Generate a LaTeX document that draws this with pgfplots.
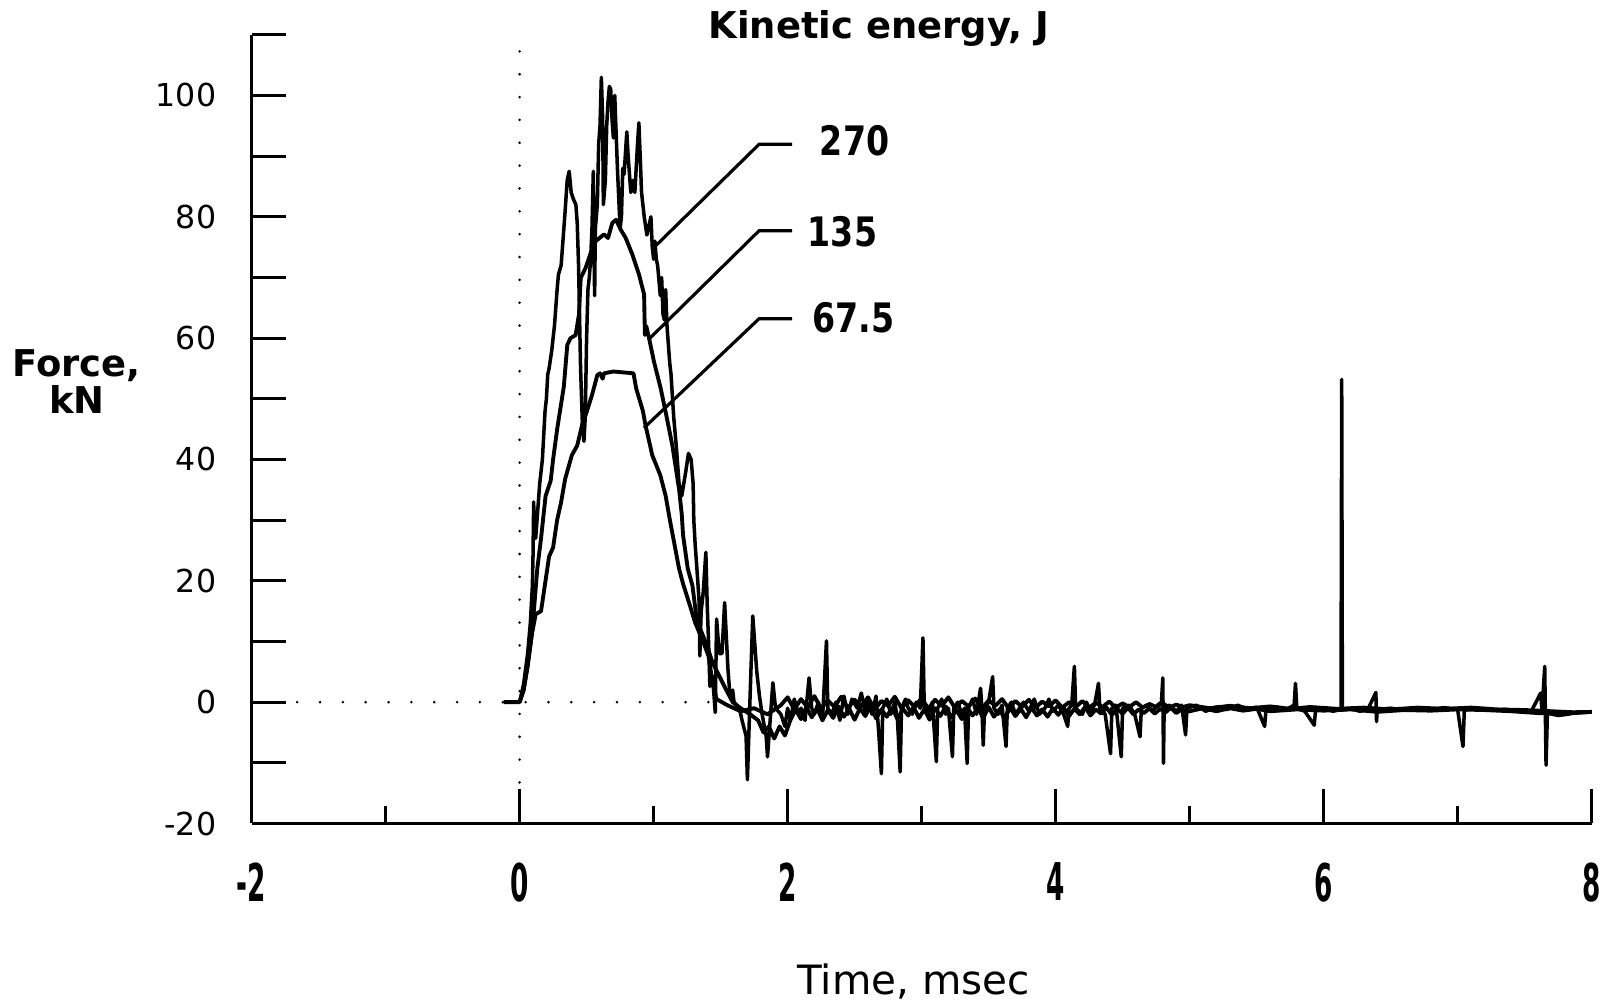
\documentclass[border=0pt]{standalone}
\usepackage{pgfplots}
\pgfplotsset{compat=1.18}
\usepackage{fontspec}
\setmainfont{DejaVu Sans}
\usepackage{graphicx}
\newcommand{\xl}[1]{\scalebox{0.75}[1.48]{\bfseries #1}}
\newcommand{\al}[1]{\scalebox{0.9}[1.1]{#1}}
\begin{document}
\begin{tikzpicture}
\begin{axis}[
  name=ax,
  scale only axis,
  width=13.40cm, height=7.887cm,
  xmin=-2, xmax=8, ymin=-20, ymax=110,
  axis lines=left,
  axis line style={-, line width=0.9pt},
  tick align=inside,
  major tick length=0.34cm,
  minor tick length=0.17cm,
  tick style={line width=0.9pt, black},
  xtick={-2,0,2,4,6,8},
  xticklabels={\xl{-2},\xl{0},\xl{2},\xl{4},\xl{6},\xl{8}},
  minor xtick={-1,1,3,5,7},
  ytick={-20,-10,0,10,20,30,40,50,60,70,80,90,100,110},
  yticklabels={-20,,0,,20,,40,,60,,80,,100,},
  yticklabel style={font=\fontsize{9}{10}\selectfont, xshift=-0.23cm},
  xticklabel style={font=\fontsize{10}{12}\selectfont, yshift=-0.27cm},
  clip=false,
]
% dotted reference lines
\draw[line width=0.8pt, dash pattern=on 0pt off 6.5pt, line cap=round] (axis cs:0,-17) -- (axis cs:0,109);
\draw[line width=0.8pt, dash pattern=on 0pt off 6.5pt, line cap=round] (axis cs:-1.66,0) -- (axis cs:1.45,0);

% 67.5 J
\addplot[black, line width=1.1pt, line join=round] coordinates {
(-0.12,0) (0,0) (0.03,2) (0.06,6) (0.09,11) (0.12,14.5) (0.16,15) (0.18,18) (0.2,21) (0.22,24) (0.25,25.5)
(0.28,30) (0.31,33) (0.34,36.8) (0.39,40.7) (0.43,42.3) (0.47,46) (0.5,47.8) (0.54,50.6) (0.58,53.9) (0.6,54.2)
(0.62,53.3) (0.63,54.2) (0.7,54.5) (0.85,54.2) (0.87,51.7) (0.92,48) (0.94,45.6) (0.99,40.7) (1.05,37.4)
(1.09,34) (1.12,30.2) (1.19,22) (1.22,19.5) (1.27,16) (1.31,13.1) (1.36,10.5) (1.41,7.6) (1.44,3.2) (1.47,0.5)
(1.55,-0.5) (1.65,-1.5) (1.75,-1) (1.85,-2) (1.95,-0.5)
(2.0,0.8) (2.05,-1.2) (2.1,0.5) (2.15,-0.9) (2.2,1.0) (2.25,-1.1) (2.3,0.3) (2.35,-0.8) (2.4,0.9) (2.45,-1.0)
(2.5,0.4) (2.55,-0.7) (2.6,0.8) (2.65,-1.2) (2.7,0.2) (2.75,-0.6) (2.8,0.9) (2.85,-1.0) (2.9,0.3) (2.95,-0.8)
(3.0,0.7) (3.05,-1.1) (3.1,0.4) (3.15,-0.6) (3.2,0.8) (3.25,-1.0) (3.3,0.2) (3.35,-0.7) (3.4,0.6) (3.45,-1.1)
(3.5,0.3) (3.55,-0.6) (3.6,0.5) (3.65,-1.0) (3.7,0.2) (3.75,-0.8) (3.8,0.4) (3.85,-0.9) (3.9,0.1) (3.95,-0.7)
(4.0,0.3) (4.05,-0.9) (4.1,0.0) (4.15,-0.8) (4.2,0.2) (4.25,-0.9) (4.3,-0.1) (4.35,-0.8) (4.4,0.1) (4.45,-0.9)
(4.5,-0.2) (4.55,-0.8) (4.6,0.0) (4.65,-0.9) (4.7,-0.3) (4.75,-0.8) (4.8,-0.2) (4.85,-0.9) (4.9,-0.4) (4.95,-0.8)
(5.0,-0.5) (5.15,-1.0) (5.3,-0.6) (5.45,-1.0) (5.6,-0.7) (5.75,-1.1) (5.9,-0.8) (6.1,-1.1) (6.3,-0.9) (6.5,-1.2)
(6.7,-0.9) (6.9,-1.1) (7.1,-0.9) (7.3,-1.2) (7.5,-1.3) (7.7,-1.5) (7.9,-1.7) (8.0,-1.6)
};

% 135 J
\addplot[black, line width=1.1pt, line join=round] coordinates {
(0,0) (0.03,2) (0.06,6) (0.09,11) (0.11,16) (0.132,22) (0.16,27) (0.194,34) (0.232,36.5) (0.25,40) (0.281,45.1)
(0.33,52) (0.356,58.9) (0.38,60) (0.418,60.5) (0.443,63.9) (0.456,69.9) (0.493,71.6) (0.53,74) (0.568,76.0)
(0.63,77.1) (0.66,76.5) (0.692,79.0) (0.72,79.5) (0.754,77.9) (0.792,76.5) (0.841,73.8) (0.891,70.5)
(0.929,67.2) (0.935,60.5) (0.945,62) (0.966,60.0) (1.003,56.1) (1.053,51.7) (1.09,47.8) (1.14,42.3)
(1.19,35.1) (1.21,31) (1.22,27.5) (1.255,22) (1.29,19.2) (1.315,14.8) (1.34,12.5) (1.39,9.8) (1.44,6.5)
(1.49,4.3) (1.54,2.1) (1.59,0) (1.65,-1) (1.72,-2) (1.78,-3) (1.82,-5) (1.86,-4) (1.9,-6) (1.94,-4)
(1.98,-5.5) (2.02,-3) (2.06,-1.2) (2.10,-2.8) (2.14,-0.8) (2.18,-2.5) (2.22,-1.0) (2.26,-3.0) (2.30,-1.3)
(2.34,-2.6) (2.38,-0.7) (2.42,-2.4) (2.46,-1.1) (2.50,-2.9) (2.54,-1.0) (2.58,-2.3) (2.62,-0.6) (2.66,-2.7)
(2.70,-1.2) (2.74,-2.4) (2.78,-0.9) (2.82,-2.8) (2.86,-1.1) (2.90,-2.2) (2.94,-0.8) (2.98,-2.6) (3.02,-1.2)
(3.06,-2.9) (3.10,-1.0) (3.14,-2.3) (3.18,-0.7) (3.22,-2.5) (3.26,-1.3) (3.30,-2.8) (3.34,-0.9) (3.38,-2.2)
(3.42,-1.0) (3.46,-2.6) (3.50,-0.8) (3.54,-2.4) (3.58,-1.2) (3.62,-2.7) (3.66,-0.9) (3.70,-2.3) (3.74,-1.1)
(3.78,-2.5) (3.82,-0.9) (3.86,-2.2) (3.90,-1.2) (3.94,-2.4) (3.98,-1.0) (4.02,-2.1) (4.06,-0.9) (4.10,-2.3)
(4.14,-1.1) (4.18,-2.0) (4.22,-0.8) (4.26,-2.2) (4.30,-1.2) (4.34,-1.9) (4.38,-0.9) (4.42,-2.1) (4.46,-1.1)
(4.50,-1.9) (4.54,-0.9) (4.58,-2.0) (4.62,-1.2) (4.66,-1.8) (4.70,-1.0) (4.74,-1.9) (4.78,-1.1) (4.82,-1.7)
(4.86,-0.9) (4.90,-1.8) (4.94,-1.2) (4.98,-1.6) (5.1,-1.0) (5.2,-1.5) (5.3,-1.0) (5.4,-1.4) (5.5,-1.1)
(5.6,-1.5) (5.8,-1.2) (6.0,-1.4) (6.2,-1.2) (6.4,-1.6) (6.6,-1.3) (6.8,-1.4) (7.0,-1.2) (7.2,-1.3) (7.4,-1.5)
(7.6,-1.8) (7.8,-1.9) (8.0,-1.6)
};

% 270 J
\addplot[black, line width=1pt, line join=round] coordinates {
(0,0) (0.03,3) (0.06,8) (0.08,13) (0.095,19) (0.1,24) (0.105,33) (0.11,27) (0.115,30) (0.12,27) (0.13,30)
(0.15,36) (0.17,40) (0.19,48) (0.2,50) (0.21,54) (0.22,55) (0.24,58) (0.26,62) (0.28,68) (0.29,70.5)
(0.31,72) (0.33,78) (0.34,81) (0.355,86) (0.37,87.5) (0.385,84) (0.4,83) (0.42,82) (0.43,79) (0.44,72)
(0.455,55) (0.47,45) (0.48,43) (0.49,47) (0.5,60) (0.51,68) (0.52,70) (0.53,73) (0.54,78) (0.55,87.5)
(0.555,75) (0.56,67) (0.565,78) (0.58,82) (0.59,92) (0.6,95) (0.61,103) (0.62,96) (0.625,82) (0.64,86)
(0.65,95) (0.66,99) (0.67,101.5) (0.68,101) (0.69,96) (0.7,93) (0.71,100) (0.72,94) (0.73,88) (0.74,83)
(0.75,78) (0.76,80) (0.77,88) (0.78,87) (0.8,94) (0.81,90) (0.83,84) (0.845,86) (0.86,84) (0.87,88)
(0.88,92) (0.89,95.5) (0.9,90) (0.91,84) (0.93,80) (0.95,77) (0.97,79) (0.98,80) (0.99,75) (1.0,73)
(1.01,76) (1.02,73) (1.03,72) (1.05,67) (1.06,70) (1.07,64) (1.08,63) (1.09,68) (1.1,62) (1.12,56)
(1.13,54) (1.15,47) (1.17,42) (1.19,36) (1.21,34) (1.24,38) (1.26,41) (1.28,40) (1.295,36) (1.3,30)
(1.31,26) (1.32,23) (1.33,19.8) (1.34,16.4) (1.345,7.6) (1.355,15) (1.37,18) (1.39,24.7) (1.4,16)
(1.41,10) (1.42,2.6) (1.44,4.3) (1.46,-1.7) (1.47,13.7) (1.49,8) (1.51,8) (1.53,16.4) (1.555,5.4)
(1.57,1) (1.59,2) (1.6,0) (1.64,-1) (1.66,-3) (1.69,-5.6) (1.7,-12.8) (1.72,1) (1.74,14.2) (1.77,5)
(1.79,1) (1.81,-2) (1.84,-5.6) (1.85,-9) (1.89,3.2) (1.91,-1) (1.95,-2)
(1.98,-4) (2.0,-1) (2.02,-3) (2.05,0.5) (2.08,-2) (2.1,-1) (2.13,-3) (2.16,4.0) (2.18,-1) (2.2,-2)
(2.23,0) (2.26,-3) (2.29,10.1) (2.3,-1) (2.33,-2) (2.36,0) (2.39,-3) (2.42,1) (2.45,-2) (2.48,0.5)
(2.52,-1) (2.55,1.5) (2.58,-1.5) (2.6,0) (2.63,-2) (2.66,1) (2.68,-5) (2.70,-11.8) (2.71,-1) (2.74,0.5)
(2.77,-2) (2.8,0) (2.82,-3) (2.84,-11.5) (2.85,-1) (2.88,0.5) (2.9,-1) (2.93,-2) (2.96,0) (2.99,-1)
(3.01,10.6) (3.02,-1) (3.05,-2) (3.08,0) (3.11,-9.8) (3.12,-1) (3.15,0.5) (3.18,-2) (3.2,-1) (3.23,-9)
(3.24,-1) (3.27,0) (3.3,-2) (3.32,-1) (3.34,-10.1) (3.35,-1) (3.38,0.5) (3.41,-2) (3.44,2.3) (3.45,-1)
(3.46,-7.1) (3.47,-1) (3.5,0) (3.53,4.2) (3.54,-1) (3.57,-2) (3.6,-0.5) (3.63,-7.3) (3.64,-1) (3.67,0)
(3.7,-2) (3.73,-1) (3.76,0) (3.8,-1.5) (3.84,0.5) (3.88,-2) (3.92,-1) (3.95,0.5) (3.98,-1.5) (4.02,-0.5)
(4.06,-2) (4.09,-4) (4.1,-1) (4.12,-0.5) (4.14,5.9) (4.15,-1) (4.2,-2) (4.23,0) (4.26,-1.5) (4.29,-0.5)
(4.32,3.1) (4.33,-1) (4.37,-2) (4.41,-8.5) (4.42,-1) (4.45,-0.5) (4.49,-9) (4.5,-1) (4.55,-0.5) (4.59,-2)
(4.63,-5.7) (4.64,-1) (4.68,-0.5) (4.72,-1.5) (4.76,-0.5) (4.79,0) (4.8,4) (4.805,-10.1) (4.81,-1)
(4.85,-0.5) (4.9,-1.5) (4.94,-0.5) (4.97,-5.4) (4.98,-1) (5.05,-0.5) (5.12,-1.5) (5.2,-0.8) (5.28,-1.2)
(5.36,-0.5) (5.44,-1.3) (5.5,-0.8) (5.56,-4) (5.57,-1.2) (5.65,-0.8) (5.72,-1.2) (5.78,-0.5) (5.79,3.1)
(5.8,-1) (5.86,-1.5) (5.93,-3.8) (5.94,-1.3) (6.0,-1.0) (6.07,-1.5) (6.13,-1.2) (6.135,53.2) (6.14,-1.3)
(6.2,-1.0) (6.27,-1.5) (6.33,-1.2) (6.39,1.6) (6.395,-3.2) (6.4,-1.2) (6.5,-1.0) (6.6,-1.3) (6.7,-1.0)
(6.8,-1.2) (6.9,-0.9) (7.0,-1.2) (7.04,-7.3) (7.05,-1.3) (7.15,-1.0) (7.25,-1.3) (7.35,-1.2) (7.45,-1.4)
(7.55,-1.5) (7.62,1.5) (7.63,-1.5) (7.65,5.9) (7.66,-10.4) (7.67,-1.8) (7.75,-2.2) (7.82,-2.0) (7.9,-1.6) (8.0,-1.6)
};

% leader lines
\draw[line width=0.9pt] (axis cs:2.033,91.95) -- (axis cs:1.787,91.95) -- (axis cs:1.019,75.3);
\draw[line width=0.9pt] (axis cs:2.033,77.7) -- (axis cs:1.787,77.7) -- (axis cs:0.959,59.7);
\draw[line width=0.9pt] (axis cs:2.033,63.2) -- (axis cs:1.787,63.2) -- (axis cs:0.928,45.2);
\node[font=\bfseries\fontsize{10.5}{12}\selectfont] at (axis cs:2.50,92.6) {\al{270}};
\node[font=\bfseries\fontsize{10.5}{12}\selectfont] at (axis cs:2.41,77.5) {\al{135}};
\node[font=\bfseries\fontsize{10.5}{12}\selectfont] at (axis cs:2.49,63.4) {\al{67.5}};

% titles
\node[font=\bfseries\fontsize{10.5}{12}\selectfont] at (axis cs:2.68,111) {Kinetic energy, J};
\node[font=\bfseries\fontsize{10.5}{9}\selectfont, align=center] at (axis cs:-3.305,52.8) {Force,\\kN};
\node[font=\fontsize{11.5}{12}\selectfont] at (axis cs:2.94,-46) {Time, msec};
\end{axis}
\pgfresetboundingbox
\path[use as bounding box] ([shift={(-2.516cm,-1.815cm)}]ax.south west) rectangle ++(16.1cm,10.05cm);
\end{tikzpicture}
\end{document}
